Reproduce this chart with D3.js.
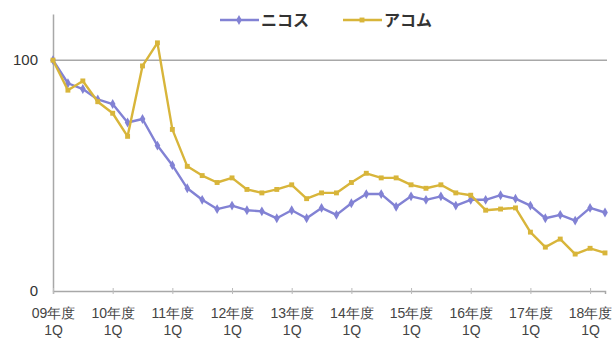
<!DOCTYPE html>
<html>
<head>
<meta charset="utf-8">
<script src="https://cdn.jsdelivr.net/npm/d3@7"></script>
<style>
  html, body { margin: 0; padding: 0; background: #fff; }
  svg { display: block; font-family: "Noto Sans CJK JP", "Noto Sans", sans-serif; }
</style>
</head>
<body>
<svg id="chart" width="612" height="339"></svg>
<script>
// Quarterly index (09年度1Q = 100)
const quarters = d3.range(38);               // 09年度1Q .. 18年度2Q
const yearLabels = ["09年度", "10年度", "11年度", "12年度", "13年度",
                    "14年度", "15年度", "16年度", "17年度", "18年度"];
const quarterLabel = "1Q";
const seriesNames = ["ニコス", "アコム"];
const nicos = [100, 90, 87.5, 83, 81, 73, 74.5, 63, 54.5, 44.5, 39.5, 35.5, 37, 35, 34.5, 31.5,
               35, 31.5, 36, 33, 38, 42, 42, 36.5, 41, 39.5, 41, 37, 39.5, 39.5, 41.5, 40,
               37, 31.5, 33, 30.5, 36, 34];
const acom  = [100, 87, 91, 82, 77, 67, 97.5, 107.5, 70, 54, 50, 47, 49, 44, 42.5, 44,
               46, 40, 42.5, 42.5, 47, 51, 49, 49, 46, 44.5, 46, 42.5, 41.5, 35, 35.5, 36,
               25.5, 19, 22.5, 16, 18.5, 16.5];
const yTicks = [0, 100];

const colors = ["#8282d4", "#d8b53a"];
const svg = d3.select("#chart");

const x = d3.scaleLinear().domain([0, quarters.length - 1]).range([53, 605]);
const y = d3.scaleLinear().domain([0, 120]).range([291, 14]);

// gridline at 100
svg.append("line")
  .attr("x1", x(0)).attr("x2", x(quarters.length - 1) + 2)
  .attr("y1", y(100)).attr("y2", y(100))
  .attr("stroke", "#a8a8a8").attr("stroke-width", 1.5);

// y axis
const yAxis = svg.append("g").attr("transform", `translate(${x(0)},0)`)
  .call(d3.axisLeft(y).tickValues(yTicks).tickSize(0).tickPadding(15));
yAxis.select(".domain").attr("stroke", "#a8a8a8").attr("stroke-width", 1.5);
yAxis.selectAll("text").attr("font-size", 15).attr("fill", "#333")
  .attr("font-family", "Liberation Sans, Arial, sans-serif");

// x axis
const yearTicks = quarters.filter(q => q % 4 === 0);
const xAxis = svg.append("g").attr("transform", `translate(0,${y(0)})`)
  .call(d3.axisBottom(x).tickValues(yearTicks).tickSize(3).tickFormat(""));
xAxis.select(".domain").attr("stroke", "#a8a8a8").attr("stroke-width", 1.5);
xAxis.selectAll(".tick line").attr("stroke", "#bbb").attr("y1", -3).attr("y2", 3);
xAxis.selectAll(".tick").each(function(d, i) {
  const t = d3.select(this).append("text").attr("fill", "#444")
    .attr("font-size", 14).attr("text-anchor", "middle");
  t.append("tspan").attr("x", 0).attr("y", 27).text(yearLabels[i]);
  t.append("tspan").attr("x", 0).attr("y", 44).text(quarterLabel);
});

// series lines and markers
const line = d3.line().x((d, i) => x(i)).y(d => y(d));
[nicos, acom].forEach((vals, k) => {
  svg.append("path").datum(vals)
    .attr("d", line).attr("fill", "none")
    .attr("stroke", colors[k]).attr("stroke-width", 2.4).attr("stroke-linejoin", "round");
  const sym = k === 0 ? d3.symbolDiamond : d3.symbolSquare;
  svg.append("g").selectAll("path").data(vals).join("path")
    .attr("transform", (d, i) => `translate(${x(i)},${y(d)})`)
    .attr("d", d3.symbol().type(sym).size(k === 0 ? 28 : 24))
    .attr("fill", colors[k]);
});

// legend
const legendX = [220, 343];
seriesNames.forEach((name, k) => {
  const g = svg.append("g").attr("transform", `translate(${legendX[k]},20)`);
  g.append("line").attr("x1", 0).attr("x2", 39).attr("y1", 0).attr("y2", 0)
    .attr("stroke", colors[k]).attr("stroke-width", 2.4);
  g.append("path").attr("transform", "translate(19,0)")
    .attr("d", d3.symbol().type(k === 0 ? d3.symbolDiamond : d3.symbolSquare).size(k === 0 ? 28 : 24))
    .attr("fill", colors[k]);
  g.append("text").attr("x", 41).attr("y", 6).attr("font-size", 16)
    .attr("font-weight", "bold").attr("fill", "#333").text(name);
});
</script>
</body>
</html>
